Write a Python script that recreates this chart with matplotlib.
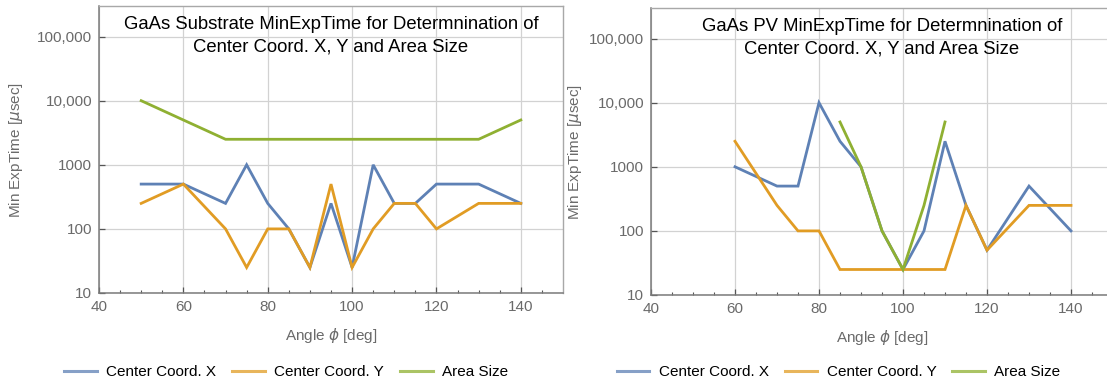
import matplotlib
matplotlib.use("Agg")
import matplotlib.pyplot as plt
from matplotlib.lines import Line2D
from matplotlib.ticker import FixedLocator, FuncFormatter, NullLocator

plt.rcParams['font.family'] = ['Liberation Sans', 'DejaVu Sans']

# ---- data ----
sub_x_angle = [50, 60, 70, 75, 80, 85, 90, 95, 100, 105, 110, 115, 120, 130, 140]
sub_x_time = [500, 500, 250, 1000, 250, 100, 25, 250, 25, 1000, 250, 250, 500, 500, 250]
sub_y_angle = [50, 60, 70, 75, 80, 85, 90, 95, 100, 105, 110, 115, 120, 130, 140]
sub_y_time = [250, 500, 100, 25, 100, 100, 25, 500, 25, 100, 250, 250, 100, 250, 250]
sub_area_angle = [50, 60, 70, 80, 90, 100, 110, 120, 130, 140]
sub_area_time = [10000, 5000, 2500, 2500, 2500, 2500, 2500, 2500, 2500, 5000]

pv_x_angle = [60, 70, 75, 80, 85, 90, 95, 100, 105, 110, 115, 120, 130, 140]
pv_x_time = [1000, 500, 500, 10000, 2500, 1000, 100, 25, 100, 2500, 250, 50, 500, 100]
pv_y_angle = [60, 70, 75, 80, 85, 90, 95, 100, 105, 110, 115, 120, 130, 140]
pv_y_time = [2500, 250, 100, 100, 25, 25, 25, 25, 25, 25, 250, 50, 250, 250]
pv_area_angle = [85, 90, 95, 100, 105, 110]
pv_area_time = [5000, 1000, 100, 25, 250, 5000]

series_labels = ["Center Coord. X", "Center Coord. Y", "Area Size"]
titles = ["GaAs Substrate MinExpTime for Determnination of\nCenter Coord. X, Y and Area Size",
          "GaAs PV MinExpTime for Determnination of\nCenter Coord. X, Y and Area Size"]
x_ticks = [40, 60, 80, 100, 120, 140]
y_ticks = [10, 100, 1000, 10000, 100000]
y_tick_labels = ["10", "100", "1000", "10,000", "100,000"]

colors = ["#5E81B5", "#E19C24", "#8FB032"]
tick_grey = "#6a6a6a"
W, H = 1107, 383

fig = plt.figure(figsize=(W / 100, H / 100), dpi=100)


def px_axes(left, top, right, bottom):
    return fig.add_axes([left / W, 1 - bottom / H, (right - left) / W, (bottom - top) / H])


ax_left = px_axes(99, 6, 563, 293)
ax_right = px_axes(651, 8, 1113, 295)

panels = [
    (ax_left, [(sub_x_angle, sub_x_time), (sub_y_angle, sub_y_time), (sub_area_angle, sub_area_time)]),
    (ax_right, [(pv_x_angle, pv_x_time), (pv_y_angle, pv_y_time), (pv_area_angle, pv_area_time)]),
]
ylabel_x = [-0.159, -0.145]
legend_cx = [286 / W, 838.5 / W]

for i, (ax, series) in enumerate(panels):
    for (xs, ys), c in zip(series, colors):
        ax.plot(xs, ys, color=c, lw=2.0, solid_joinstyle='miter', zorder=3)
    ax.set_yscale('log')
    ax.set_xlim(40, 150)
    ax.set_ylim(10, 3e5)
    ax.xaxis.set_major_locator(FixedLocator(x_ticks))
    ax.xaxis.set_minor_locator(FixedLocator([v for v in range(45, 150, 5) if v % 20 != 0]))
    ax.yaxis.set_major_locator(FixedLocator(y_ticks))
    ax.yaxis.set_minor_locator(NullLocator())
    ax.yaxis.set_major_formatter(FuncFormatter(lambda v, p: y_tick_labels[y_ticks.index(int(round(v)))]
                                               if int(round(v)) in y_ticks else ""))
    ax.grid(True, which='major', color='#d2d2d2', lw=0.9, zorder=0)
    ax.tick_params(axis='both', which='major', direction='in', length=4, width=0.9,
                   color='#555555', labelcolor=tick_grey, labelsize=11, pad=5)
    ax.tick_params(axis='x', which='minor', direction='in', length=2.5, width=0.8, color='#555555')
    for side in ['left', 'bottom']:
        ax.spines[side].set_color('#7a7a7a')
        ax.spines[side].set_linewidth(1.1)
    for side in ['top', 'right']:
        ax.spines[side].set_color('#a8a8a8')
        ax.spines[side].set_linewidth(1.0)
    ax.set_xlabel(r"Angle $\phi$ [deg]", color=tick_grey, fontsize=11, labelpad=9)
    ax.set_ylabel(r"Min ExpTime [$\mu$sec]", color=tick_grey, fontsize=11)
    ax.yaxis.set_label_coords(ylabel_x[i], 0.5)
    ax.text(0.5, 0.965, titles[i], transform=ax.transAxes, ha='center', va='top',
            fontsize=13.3, color='black', linespacing=1.45, zorder=5)

    handles = [Line2D([], [], color=c, lw=2.2, alpha=0.75) for c in colors]
    fig.legend(handles, series_labels, loc='center', bbox_to_anchor=(legend_cx[i], 1 - 372 / H),
               ncol=3, frameon=False, fontsize=11, handlelength=2.15, handletextpad=0.6,
               columnspacing=1.05)

fig.savefig("out.png", dpi=100)
